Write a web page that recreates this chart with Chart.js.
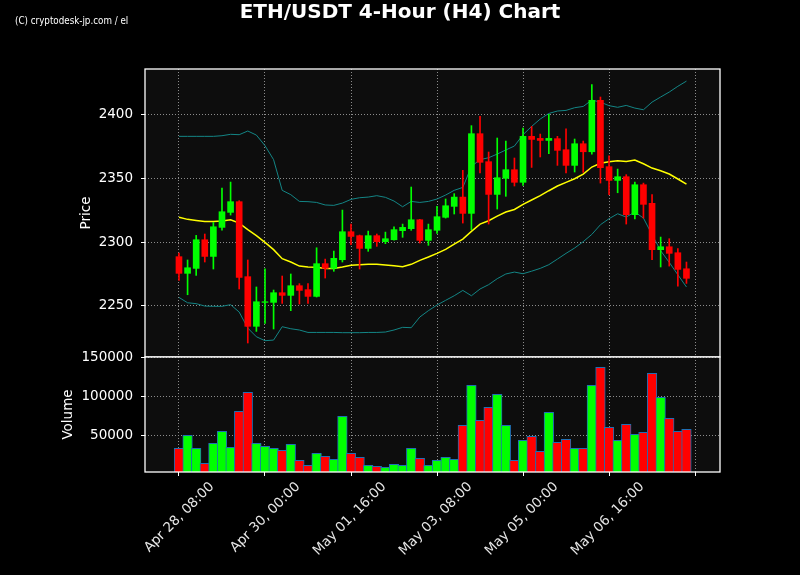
<!DOCTYPE html>
<html>
<head>
<meta charset="utf-8">
<script src="https://cdn.jsdelivr.net/npm/chart.js@4.4.1/dist/chart.umd.min.js"></script>
<style>
  html, body { margin: 0; padding: 0; background: #000; }
  #wrap { position: relative; width: 800px; height: 575px; background: #000; overflow: hidden; }
  #title { position: absolute; left: 0; top: 0; width: 800px; text-align: center; color: #fff;
           font: bold 20px "DejaVu Sans", sans-serif; line-height: 22px; }
  #credit { position: absolute; left: 15px; top: 14px; color: #fff; line-height: 12px; white-space: nowrap;
            font: 11px "Liberation Sans Narrow", "DejaVu Sans Condensed", sans-serif;
            transform: scaleX(0.885); transform-origin: 0 0; }
  canvas { position: absolute; left: 0; }
</style>
</head>
<body>
<div id="wrap">
  <canvas id="priceChart" width="800" height="375" style="top:0"></canvas>
  <canvas id="volumeChart" width="800" height="235" style="top:340px"></canvas>
  <div id="title">ETH/USDT 4-Hour (H4) Chart</div>
  <div id="credit">(C) cryptodesk-jp.com / el</div>
</div>
<script>
// candles are 4h apart, index 0 = Apr 28 08:00
const tickPos = [0, 10, 20, 30, 40, 50, 60];
const tickLabels = ["Apr 28, 08:00", "Apr 30, 00:00", "May 01, 16:00", "May 03, 08:00", "May 05, 00:00", "May 06, 16:00", ""];
const priceTicks = [2250, 2300, 2350, 2400];
const volumeTicks = [50000, 100000, 150000];

const opens = [2288.5, 2275.4, 2279.3, 2301.8, 2288.7, 2311.5, 2323.3, 2331.7, 2272.8, 2233.8,
  2252.6, 2252.6, 2260.2, 2258.1, 2265.7, 2262.6, 2257.3, 2283.0, 2279.3, 2286.1,
  2308.1, 2305.0, 2295.0, 2305.0, 2300.3, 2301.8, 2308.9, 2310.5, 2317.5, 2301.3,
  2309.2, 2319.4, 2328.0, 2335.3, 2322.5, 2385.1, 2363.1, 2337.4, 2350.0, 2356.8,
  2346.9, 2383.0, 2381.4, 2379.8, 2381.2, 2372.5, 2360.2, 2377.2, 2370.9, 2411.3,
  2359.2, 2348.4, 2351.3, 2321.5, 2345.0, 2330.4, 2294.0, 2296.3, 2291.6, 2279.0];
const highs = [2291.4, 2285.9, 2305.2, 2306.3, 2315.4, 2342.4, 2347.1, 2332.5, 2285.9, 2264.7,
  2279.0, 2262.3, 2273.3, 2274.9, 2267.3, 2267.3, 2295.5, 2286.6, 2292.9, 2325.1,
  2314.1, 2305.5, 2308.6, 2306.3, 2307.8, 2312.0, 2314.1, 2343.2, 2317.8, 2314.1,
  2328.0, 2333.8, 2338.0, 2356.3, 2391.4, 2398.7, 2370.7, 2381.7, 2379.3, 2366.0,
  2389.5, 2390.8, 2384.8, 2400.3, 2383.0, 2389.0, 2380.9, 2379.3, 2423.6, 2413.9,
  2367.8, 2357.3, 2352.9, 2347.1, 2346.3, 2337.2, 2303.9, 2302.6, 2294.8, 2284.3];
const lows = [2269.9, 2258.6, 2273.8, 2284.3, 2278.8, 2309.4, 2321.2, 2263.1, 2220.7, 2229.8,
  2236.1, 2231.7, 2251.8, 2246.1, 2251.3, 2251.8, 2256.8, 2271.7, 2277.0, 2284.3,
  2297.9, 2278.8, 2292.7, 2296.6, 2298.7, 2301.5, 2303.7, 2309.2, 2299.2, 2297.4,
  2306.8, 2318.8, 2322.0, 2314.9, 2309.7, 2354.2, 2314.1, 2325.9, 2335.9, 2344.0,
  2344.5, 2358.6, 2366.8, 2369.4, 2360.2, 2354.2, 2355.0, 2354.7, 2369.1, 2346.3,
  2337.2, 2338.7, 2314.1, 2318.1, 2318.8, 2286.1, 2280.4, 2281.1, 2265.4, 2267.5];
const closes = [2275.4, 2279.8, 2301.8, 2288.7, 2312.0, 2323.8, 2331.7, 2272.2, 2233.8, 2253.1,
  2253.1, 2260.2, 2258.1, 2265.7, 2262.0, 2257.3, 2283.0, 2279.3, 2287.2, 2308.1,
  2304.4, 2295.0, 2305.0, 2300.3, 2302.6, 2309.7, 2311.5, 2317.5, 2301.3, 2309.7,
  2319.9, 2328.5, 2335.3, 2322.5, 2385.1, 2362.6, 2337.4, 2350.5, 2356.8, 2346.9,
  2383.0, 2380.6, 2379.8, 2381.4, 2372.0, 2360.2, 2377.2, 2370.9, 2411.3, 2358.4,
  2348.4, 2351.3, 2321.5, 2345.0, 2329.6, 2294.0, 2296.3, 2291.1, 2278.5, 2271.5];

// bollinger (20) middle / upper / lower as drawn
const maLine = [2319.4, 2317.8, 2317.0, 2316.2, 2316.2, 2316.5, 2317.5, 2314.9, 2309.7, 2305.0,
  2299.7, 2294.0, 2286.9, 2284.3, 2281.1, 2280.4, 2280.1, 2279.3, 2279.3, 2280.4,
  2281.7, 2282.2, 2282.5, 2282.5, 2281.9, 2281.4, 2280.6, 2282.5, 2285.6, 2288.2,
  2291.1, 2294.2, 2298.4, 2302.3, 2308.4, 2314.1, 2316.7, 2320.4, 2323.6, 2325.6,
  2329.6, 2333.0, 2336.4, 2340.3, 2344.0, 2346.9, 2349.7, 2353.4, 2358.9, 2361.8,
  2363.1, 2363.9, 2363.3, 2364.4, 2361.5, 2358.1, 2356.0, 2353.4, 2349.5, 2345.5];
const upperBand = [2383.0, 2383.0, 2383.0, 2383.0, 2383.0, 2383.5, 2384.6, 2384.3, 2387.2, 2384.0,
  2375.7, 2364.7, 2340.6, 2337.2, 2331.9, 2331.7, 2331.1, 2329.1, 2328.8, 2330.6,
  2333.5, 2334.8, 2335.3, 2336.4, 2335.1, 2332.2, 2327.7, 2331.9, 2331.1, 2331.9,
  2333.8, 2336.9, 2340.6, 2342.9, 2359.4, 2364.7, 2366.2, 2369.1, 2372.3, 2375.4,
  2384.3, 2390.8, 2396.6, 2401.0, 2402.9, 2403.4, 2405.5, 2406.5, 2411.5, 2409.9,
  2407.1, 2405.8, 2407.3, 2405.2, 2403.9, 2409.9, 2413.9, 2417.8, 2422.3, 2426.4];
const lowerBand = [2256.5, 2252.3, 2251.6, 2249.7, 2249.5, 2249.5, 2250.8, 2245.0, 2232.4, 2225.6,
  2222.5, 2223.0, 2233.5, 2231.9, 2230.9, 2229.0, 2229.0, 2229.0, 2229.0, 2228.8,
  2228.8, 2228.8, 2229.0, 2229.0, 2229.3, 2230.9, 2233.0, 2232.7, 2241.1, 2246.1,
  2250.5, 2254.2, 2257.8, 2262.0, 2257.8, 2263.1, 2266.5, 2271.2, 2274.9, 2276.4,
  2275.1, 2277.1, 2279.3, 2282.2, 2286.6, 2291.1, 2295.3, 2300.3, 2306.0, 2313.6,
  2318.3, 2322.2, 2319.6, 2323.6, 2318.8, 2305.8, 2293.2, 2284.0, 2274.3, 2264.7];

const volumes = [33300, 50000, 33300, 14100, 39700, 55100, 34600, 80800, 105100, 39700,
  35900, 33300, 30800, 38500, 17900, 11500, 26900, 23100, 19200, 74400,
  26900, 21800, 11500, 10200, 9000, 12800, 11500, 33300, 20500, 11500,
  17900, 21800, 19200, 62800, 114100, 69200, 85900, 102600, 62800, 17900,
  43600, 48700, 29500, 79500, 41000, 44900, 33300, 33300, 114100, 137200,
  60300, 43600, 64100, 51300, 53800, 129500, 98700, 71800, 55100, 57700];

const GRID = '#8c8c8c';
const UP = '#00ff00', DOWN = '#ff0000';
const candleColors = closes.map((c, i) => c >= opens[i] ? UP : DOWN);
const toPts = arr => arr.map((v, i) => ({ x: i, y: v }));

Chart.defaults.font.family = '"DejaVu Sans", sans-serif';
Chart.defaults.font.size = 13.5;
Chart.defaults.color = '#ffffff';

// dark panel + white frame around the plot area
const panelFrame = {
  id: 'panelFrame',
  beforeDraw(chart) {
    const { ctx, chartArea: a } = chart;
    ctx.save();
    ctx.fillStyle = '#0d0d0d';
    ctx.fillRect(a.left, a.top, a.width, a.height);
    ctx.restore();
  },
  afterDraw(chart) {
    const { ctx, chartArea: a } = chart;
    ctx.save();
    ctx.strokeStyle = '#ffffff';
    ctx.lineWidth = 1.3;
    ctx.strokeRect(a.left, a.top, a.width, a.height);
    ctx.restore();
  }
};

function xScale(withLabels) {
  return {
    type: 'linear', min: -3.95, max: 62.9, offset: false,
    afterBuildTicks: s => { s.ticks = tickPos.map(v => ({ value: v })); },
    afterFit: s => { s.height = withLabels ? 103 : 0; },
    grid: { color: GRID, offset: false, drawTicks: withLabels, tickLength: 4, tickColor: '#ffffff' },
    border: { display: false, dash: [1, 2] },
    ticks: withLabels ? {
      autoSkip: false, maxRotation: 45, minRotation: 45, labelOffset: 33, padding: 3,
      color: '#e6e6e6', callback: v => tickLabels[tickPos.indexOf(v)]
    } : { display: false }
  };
}

function yScale(min, max, tickVals, width, label) {
  return {
    type: 'linear', position: 'left', min: min, max: max,
    afterBuildTicks: s => { s.ticks = tickVals.map(v => ({ value: v })); },
    afterFit: s => { s.width = width; },
    grid: { color: GRID, tickLength: 4, tickColor: '#ffffff' },
    border: { display: false, dash: [1, 2] },
    ticks: { color: '#ffffff', padding: 8, callback: v => String(v) },
    title: { display: true, text: label, color: '#ffffff', padding: { top: 4, bottom: 4 } }
  };
}

new Chart(document.getElementById('priceChart'), {
  type: 'bar',
  data: {
    datasets: [
      { data: opens.map((o, i) => ({ x: i, y: [o, closes[i]] })), backgroundColor: candleColors,
        barThickness: 6, grouped: false, order: 0 },
      { data: lows.map((l, i) => ({ x: i, y: [l, highs[i]] })), backgroundColor: candleColors,
        barThickness: 1, grouped: false, order: 1 },
      { type: 'line', data: toPts(maLine), borderColor: '#ffff00', borderWidth: 1.5,
        pointRadius: 0, tension: 0, order: 2 },
      { type: 'line', data: toPts(upperBand), borderColor: '#138585', borderWidth: 1,
        pointRadius: 0, tension: 0, order: 3 },
      { type: 'line', data: toPts(lowerBand), borderColor: '#138585', borderWidth: 1,
        pointRadius: 0, tension: 0, order: 3 }
    ]
  },
  options: {
    responsive: false, animation: false, devicePixelRatio: 1,
    layout: { autoPadding: false, padding: { left: 74, right: 80, top: 69, bottom: 18 } },
    plugins: { legend: { display: false }, tooltip: { enabled: false } },
    scales: {
      x: xScale(false),
      y: yScale(2209.7, 2435.9, priceTicks, 71, 'Price')
    }
  },
  plugins: [panelFrame]
});

new Chart(document.getElementById('volumeChart'), {
  type: 'bar',
  data: {
    datasets: [{
      data: toPts(volumes), backgroundColor: candleColors,
      borderColor: '#1f6fb4', borderWidth: 1, barThickness: 9.6, grouped: false
    }]
  },
  options: {
    responsive: false, animation: false, devicePixelRatio: 1,
    layout: { autoPadding: false, padding: { left: 56, right: 80, top: 17, bottom: 0 } },
    plugins: { legend: { display: false }, tooltip: { enabled: false } },
    scales: {
      x: xScale(true),
      y: yScale(3000, 150500, volumeTicks, 89, 'Volume')
    }
  },
  plugins: [panelFrame]
});
</script>
</body>
</html>
